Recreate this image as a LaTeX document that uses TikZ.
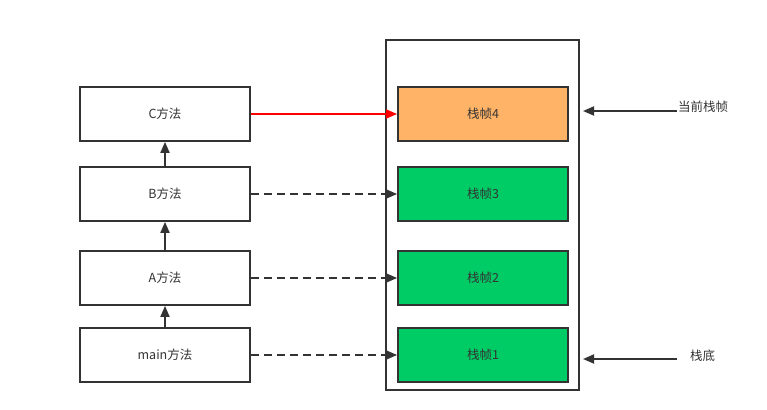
\documentclass[tikz,border=0pt]{standalone}
\usepackage{fontspec}
\setmainfont{Noto Sans CJK SC}
\usetikzlibrary{arrows.meta}
\definecolor{edge}{HTML}{333333}
\definecolor{txt}{HTML}{333333}
\definecolor{orangefill}{HTML}{FFB366}
\definecolor{greenfill}{HTML}{00CC66}
\begin{document}
\begin{tikzpicture}[x=1pt,y=-1pt,
  box/.style={draw=edge,line width=1.8pt,minimum width=170pt,minimum height=54pt,inner sep=0pt,font=\fontsize{12.5}{14}\selectfont,text=txt},
  conn/.style={draw=edge,line width=1.8pt,-{Triangle[length=11pt,width=9pt]}},
  dsh/.style={dash pattern=on 8pt off 5pt},
  lbl/.style={font=\fontsize{12.5}{14}\selectfont,text=txt,inner sep=0pt,anchor=west}]
\useasboundingbox (0,0) rectangle (767,409);
\draw[edge,line width=1.8pt] (386,40) rectangle (579,390);
\node[box] (C) at (165,114) {C方法};
\node[box] (B) at (165,194) {B方法};
\node[box] (A) at (165,278) {A方法};
\node[box] (M) at (165,355) {main方法};
\node[box,fill=orangefill] (F4) at (483,114) {栈帧4};
\node[box,fill=greenfill] (F3) at (483,194) {栈帧3};
\node[box,fill=greenfill] (F2) at (483,278) {栈帧2};
\node[box,fill=greenfill] (F1) at (483,355) {栈帧1};
\draw[conn] (M.north) -- (A.south);
\draw[conn] (A.north) -- (B.south);
\draw[conn] (B.north) -- (C.south);
\draw[conn,draw=red,-{Triangle[length=11pt,width=9pt,fill=red]},color=red] (C.east) -- (F4.west);
\draw[conn,dsh] (B.east) -- (F3.west);
\draw[conn,dsh] (A.east) -- (F2.west);
\draw[conn,dsh] (M.east) -- (F1.west);
\node[lbl] (cur) at (678,107) {当前栈帧};
\node[lbl] (bot) at (690,356) {栈底};
\coordinate (curS) at (677,111);
\coordinate (curE) at (583,111);
\coordinate (botS) at (677,359);
\coordinate (botE) at (583,359);
\draw[conn] (curS) -- (curE);
\draw[conn] (botS) -- (botE);
\end{tikzpicture}
\end{document}
